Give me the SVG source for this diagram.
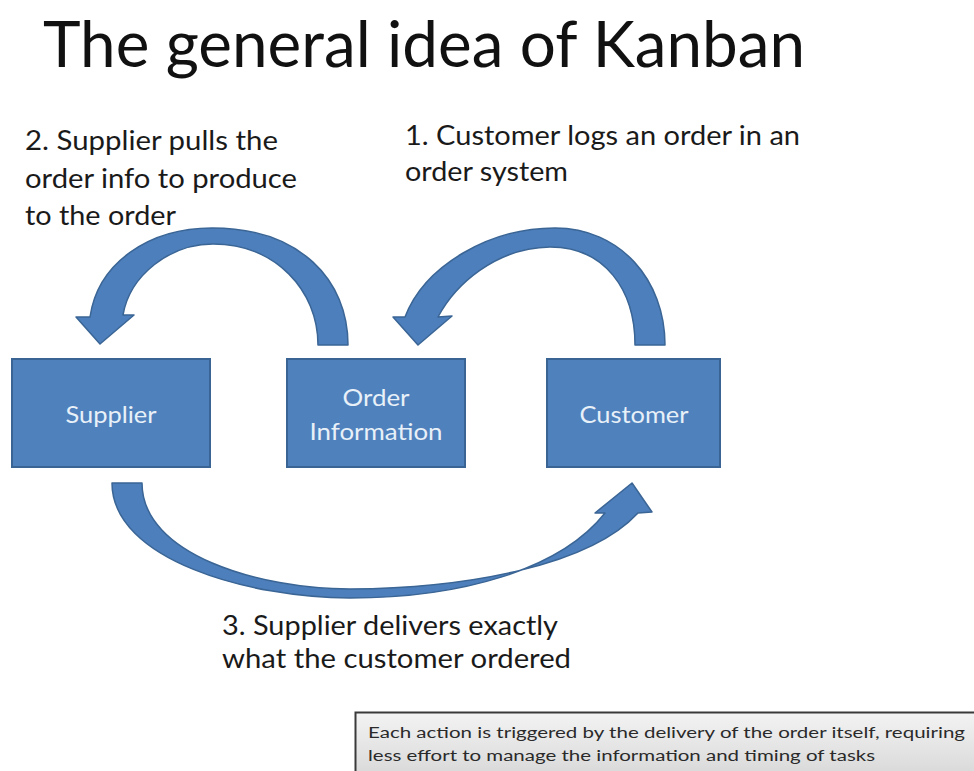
<svg xmlns="http://www.w3.org/2000/svg" width="974" height="771" viewBox="0 0 974 771">
<defs>
<linearGradient id="noteGrad" x1="0" y1="0" x2="0" y2="1">
<stop offset="0" stop-color="#f3f3f3"/>
<stop offset="1" stop-color="#d6d6d6"/>
</linearGradient>
<style>
.t{font-family:Lato,"Open Sans","Liberation Sans",sans-serif;fill:#111;}
.lbl{font-family:Lato,"Open Sans","Liberation Sans",sans-serif;font-size:26px;fill:#1a1a1a;}
.box{fill:#4f81bd;stroke:#3a6494;stroke-width:2;}
.btxt{font-family:Lato,"Open Sans","Liberation Sans",sans-serif;font-size:24px;fill:#e8f0f8;text-anchor:middle;}
.arrow{fill:#4d7fbc;stroke:#3a6595;stroke-width:1.5;stroke-linejoin:round;}
.note{font-family:Lato,"Open Sans","Liberation Sans",sans-serif;font-size:14.5px;fill:#2a2a2a;}
</style>
</defs>
<rect width="974" height="771" fill="#ffffff"/>
<text class="t" x="43" y="67" font-size="64" textLength="762" lengthAdjust="spacingAndGlyphs">The general idea of Kanban</text>
<g id="label2">
<text class="lbl" x="25" y="150" textLength="253" lengthAdjust="spacingAndGlyphs">2. Supplier pulls the</text>
<text class="lbl" x="25" y="188" textLength="272" lengthAdjust="spacingAndGlyphs">order info to produce</text>
<text class="lbl" x="25" y="225" textLength="151" lengthAdjust="spacingAndGlyphs">to the order</text>
</g>
<g id="label1">
<text class="lbl" x="405" y="145" textLength="395" lengthAdjust="spacingAndGlyphs">1. Customer logs an order in an</text>
<text class="lbl" x="405" y="181" textLength="163" lengthAdjust="spacingAndGlyphs">order system</text>
</g>
<g id="label3">
<text class="lbl" x="222" y="635" textLength="336" lengthAdjust="spacingAndGlyphs">3. Supplier delivers exactly</text>
<text class="lbl" x="222" y="668" textLength="349" lengthAdjust="spacingAndGlyphs">what the customer ordered</text>
</g>
<g id="connectors">
<path id="arrow-pull" class="arrow" d="M 348 345 C 348 280, 300 228, 212 228 C 150 228, 98 262, 90 317 L 76 317 L 100 344 L 134 315 L 123 315 C 130 275, 170 244, 213 244 C 275 244, 318 290, 318 345 Z"/>
<path id="arrow-order" class="arrow" d="M 665 345 C 665 280, 620 228, 555 228 C 490 228, 425 265, 405 317 L 393 317 L 418 345 L 452 316 L 438 317 C 455 285, 495 248, 550 247 C 605 247, 635 290, 635 345 Z"/>
<path id="arrow-deliver" class="arrow" d="M 112 483 C 112 560, 250 598, 350 598 C 460 598, 560 570, 605 513 L 595 513 L 632 483 L 652 512 L 638 513 C 590 565, 470 588, 350 589 C 260 589, 142 555, 142 483 Z"/>
</g>
<g id="supplier">
<rect class="box" x="12" y="359" width="198" height="108"/>
<text class="btxt" x="111" y="423" textLength="91" lengthAdjust="spacingAndGlyphs">Supplier</text>
</g>
<g id="order-information">
<rect class="box" x="287" y="359" width="178" height="108"/>
<text class="btxt" x="376" y="406" textLength="67" lengthAdjust="spacingAndGlyphs">Order</text>
<text class="btxt" x="376" y="440" textLength="133" lengthAdjust="spacingAndGlyphs">Information</text>
</g>
<g id="customer">
<rect class="box" x="547" y="359" width="173" height="108"/>
<text class="btxt" x="634" y="423" textLength="109" lengthAdjust="spacingAndGlyphs">Customer</text>
</g>
<g id="note">
<rect x="355.5" y="712.5" width="640" height="70" fill="url(#noteGrad)" stroke="#3a3a3a" stroke-width="2"/>
<text class="note" x="368" y="738" textLength="597" lengthAdjust="spacingAndGlyphs">Each action is triggered by the delivery of the order itself, requiring</text>
<text class="note" x="368" y="761" textLength="507" lengthAdjust="spacingAndGlyphs">less effort to manage the information and timing of tasks</text>
</g>
</svg>
